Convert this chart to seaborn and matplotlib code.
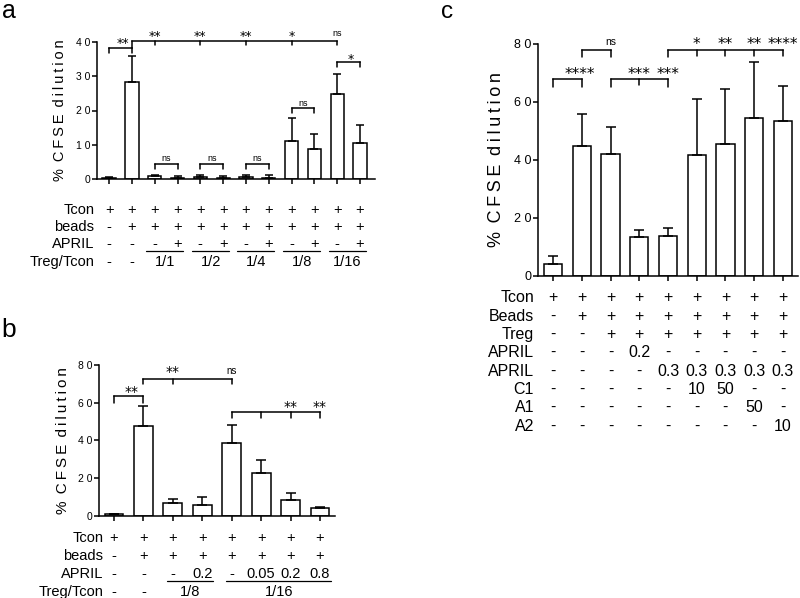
import numpy as np
import pandas as pd
import matplotlib
matplotlib.use("Agg")
import matplotlib.pyplot as plt
import seaborn as sns
from matplotlib.transforms import blended_transform_factory

W, H = 800, 598

# ---------------- panel a data ----------------
a_values = [0.3, 28.3, 0.8, 0.3, 0.7, 0.3, 0.7, 0.4, 11.2, 8.7, 24.7, 10.5]
a_errors = [0.4, 7.5, 0.5, 0.5, 0.6, 0.5, 0.5, 0.9, 6.5, 4.3, 6.1, 5.2]
a_yticks = [0, 10, 20, 30, 40]
a_rows = ["Tcon", "beads", "APRIL", "Treg/Tcon"]
a_tcon = ["+"] * 12
a_beads = ["-"] + ["+"] * 11
a_april = ["-", "-"] + ["-", "+"] * 5
a_ratio = ["-", "-"] + [""] * 10
a_groups = ["1/1", "1/2", "1/4", "1/8", "1/16"]
a_group_bars = [(2, 3), (4, 5), (6, 7), (8, 9), (10, 11)]
# brackets: (bar positions, bar y, leg bottoms)
a_brackets = [
    ([0, 1], 38.2, [36.7, 36.7]),
    ([1, 2, 4, 6, 8, 10], 40.4, [38.2, 39.1, 39.1, 39.1, 39.1, 39.1]),
    ([2, 3], 4.4, [2.9, 2.9]),
    ([4, 5], 4.4, [2.9, 2.9]),
    ([6, 7], 4.4, [2.9, 2.9]),
    ([8, 9], 20.7, [19.2, 19.2]),
    ([10, 11], 34.3, [32.8, 32.8]),
]
a_marks = [
    (0.6, 38.6, "**"), (2, 40.6, "**"), (4, 40.6, "**"), (6, 40.6, "**"),
    (8, 40.6, "*"), (10, 41.7, "ns"), (2.5, 5.3, "ns"), (4.5, 5.3, "ns"),
    (6.5, 5.3, "ns"), (8.5, 21.3, "ns"), (10.6, 34.0, "*"),
]

# ---------------- panel b data ----------------
b_values = [0.8, 47.5, 6.6, 5.9, 38.4, 22.9, 8.4, 4.1]
b_errors = [0.3, 10.5, 2.1, 3.8, 10.0, 6.6, 3.8, 0.7]
b_yticks = [0, 20, 40, 60, 80]
b_rows = ["Tcon", "beads", "APRIL", "Treg/Tcon"]
b_tcon = ["+"] * 8
b_beads = ["-"] + ["+"] * 7
b_april = ["-", "-", "-", "0.2", "-", "0.05", "0.2", "0.8"]
b_ratio = ["-", "-"] + [""] * 6
b_groups = ["1/8", "1/16"]
b_group_bars = [(2, 3), (4, 7)]
b_brackets = [
    ([0, 1], 63.3, [59.8, 59.8]),
    ([1, 2, 4], 72.7, [69.7, 69.7, 69.7]),
    ([4, 5, 6, 7], 55.0, [51.7, 51.7, 51.7, 51.7]),
]
b_marks = [
    (0.6, 63.4, "**"), (2, 74.0, "**"), (4, 75.2, "ns"),
    (6, 55.5, "**"), (7, 55.5, "**"),
]

# ---------------- panel c data ----------------
c_values = [3.9, 44.8, 42.0, 13.5, 13.8, 41.6, 45.5, 54.3, 53.4]
c_errors = [2.9, 11.1, 9.3, 2.4, 2.6, 19.5, 19.1, 19.6, 12.0]
c_yticks = [0, 20, 40, 60, 80]
c_rows = ["Tcon", "Beads", "Treg", "APRIL", "APRIL", "C1", "A1", "A2"]
c_tcon = ["+"] * 9
c_beads = ["-"] + ["+"] * 8
c_treg = ["-", "-"] + ["+"] * 7
c_april1 = ["-", "-", "-", "0.2", "-", "-", "-", "-", "-"]
c_april2 = ["-", "-", "-", "-", "0.3", "0.3", "0.3", "0.3", "0.3"]
c_c1 = ["-", "-", "-", "-", "-", "10", "50", "-", "-"]
c_a1 = ["-", "-", "-", "-", "-", "-", "-", "50", "-"]
c_a2 = ["-", "-", "-", "-", "-", "-", "-", "-", "10"]
c_brackets = [
    ([0, 1], 67.9, [65.0, 65.0]),
    ([1, 2], 77.9, [75.4, 75.4]),
    ([2, 3, 4], 67.8, [65.0, 66.0, 65.0]),
    ([4, 5, 6, 7, 8], 77.9, [75.4, 75.8, 75.8, 75.8, 75.8]),
]
c_marks = [
    (0.93, 68.0, "****"), (2, 79.7, "ns"), (3, 68.0, "***"), (4, 68.0, "***"),
    (5, 78.4, "*"), (6, 78.4, "**"), (7, 78.4, "**"), (8, 78.4, "****"),
]

YLABEL = "%\u2009 C\u2009F\u2009S\u2009E\u2009 d\u2009i\u2009l\u2009u\u2009t\u2009i\u2009o\u2009n"

sns.set_theme(style="ticks")
plt.rcParams["font.family"] = ["Liberation Sans", "DejaVu Sans"]
plt.rcParams["axes.linewidth"] = 1.1
plt.rcParams["text.color"] = "black"

fig = plt.figure(figsize=(W / 100, H / 100), dpi=100)


def make_axes(l, r, t, b):
    return fig.add_axes([l / W, 1 - b / H, (r - l) / W, (b - t) / H])


def draw_panel(ax, prefix, values, errors, width, capsize, xlim, ylim, yticks,
               tick_fs, ylabel_fs, ylabel_x):
    n = len(values)
    df = pd.DataFrame({"cond": [f"{prefix}{i}" for i in range(n)], "value": values})
    sns.barplot(data=df, x="cond", y="value", ax=ax, color="white",
                edgecolor="black", linewidth=1.1, width=width, errorbar=None,
                saturation=1)
    x = np.arange(n)
    ax.errorbar(x, values, yerr=[np.zeros(n), errors], fmt="none", ecolor="black",
                elinewidth=1.1, capsize=capsize, capthick=1.1, zorder=3)
    ax.set_xlim(*xlim)
    ax.set_ylim(*ylim)
    sns.despine(ax=ax)
    ax.spines["left"].set_color("black")
    ax.spines["bottom"].set_color("black")
    ax.set_xticks(x)
    ax.set_xticklabels([])
    ax.set_yticks(yticks)
    ax.set_yticklabels([" ".join(str(t)) for t in yticks], fontsize=tick_fs)
    ax.tick_params(axis="both", direction="out", length=3.4, width=1.1,
                   color="black", pad=1.5, labelcolor="black")
    ax.set_xlabel("")
    ax.set_ylabel(YLABEL, fontsize=ylabel_fs, color="black")
    ax.yaxis.set_label_coords(ylabel_x, 0.5)
    ax.set_facecolor("none")


def draw_brackets(ax, brackets, marks, star_fs, ns_fs):
    for xs, y, legs in brackets:
        ax.plot([xs[0], xs[-1]], [y, y], color="black", lw=1.1, clip_on=False,
                solid_capstyle="projecting")
        for xv, lb in zip(xs, legs):
            ax.plot([xv, xv], [y, lb], color="black", lw=1.1, clip_on=False)
    for xv, yv, txt in marks:
        if txt == "ns":
            ax.text(xv, yv, txt, ha="center", va="baseline", fontsize=ns_fs,
                    family=["Liberation Sans"], clip_on=False)
        else:
            ax.text(xv, yv, txt, ha="center", va="baseline", fontsize=star_fs,
                    family=["DejaVu Sans"], clip_on=False)


def draw_table(ax, rows, cells, baselines, label_right, fs):
    tr = blended_transform_factory(ax.transData, fig.transFigure)
    for name, vals, ypx in zip(rows, cells, baselines):
        fig.text(label_right / W, 1 - ypx / H, name, ha="right", va="baseline",
                 fontsize=fs)
        for i, v in enumerate(vals):
            if v:
                ax.text(i, 1 - ypx / H, v, transform=tr, ha="center",
                        va="baseline", fontsize=fs, clip_on=False)
    return tr


def draw_groups(ax, tr, groups, group_bars, text_base, line_px, left_off,
                right_off, text_off, fs):
    for g, (b1, b2) in zip(groups, group_bars):
        ax.plot([b1 - left_off, b2 + right_off], [1 - line_px / H] * 2,
                transform=tr, color="black", lw=0.9, clip_on=False)
        ax.text((b1 + b2) / 2 + text_off, 1 - text_base / H, g, transform=tr,
                ha="center", va="baseline", fontsize=fs, clip_on=False)


# ---------------- panel a ----------------
ax_a = make_axes(97, 375, 42, 179)
draw_panel(ax_a, "a", a_values, a_errors, 0.58, 2.8, (-0.53, 11.66), (0, 40),
           a_yticks, 7.5, 10.5, -0.108)
draw_brackets(ax_a, a_brackets, a_marks, 9, 6.5)
tr_a = draw_table(ax_a, a_rows, [a_tcon, a_beads, a_april, a_ratio],
                  [214, 231, 248.3, 266], 94.3, 10.5)
draw_groups(ax_a, tr_a, a_groups, a_group_bars, 266, 250.5, 0.37, 0.25, -0.05, 10.5)

# ---------------- panel b ----------------
ax_b = make_axes(99.3, 335, 365, 515.7)
draw_panel(ax_b, "b", b_values, b_errors, 0.64, 3.3, (-0.5, 7.51), (0, 80),
           b_yticks, 7.5, 11, -0.124)
draw_brackets(ax_b, b_brackets, b_marks, 10, 7)
tr_b = draw_table(ax_b, b_rows, [b_tcon, b_beads, b_april, b_ratio],
                  [542.3, 560, 577.7, 596], 103.3, 10.5)
draw_groups(ax_b, tr_b, b_groups, b_group_bars, 596, 581, 0.2, 0.37, 0.1, 10.5)

# ---------------- panel c ----------------
ax_c = make_axes(538.3, 798, 44, 275.7)
draw_panel(ax_c, "c", c_values, c_errors, 0.64, 3.6, (-0.52, 8.53), (0, 80),
           c_yticks, 9, 13, -0.128)
draw_brackets(ax_c, c_brackets, c_marks, 11, 7.5)
draw_table(ax_c, c_rows,
           [c_tcon, c_beads, c_treg, c_april1, c_april2, c_c1, c_a1, c_a2],
           [302.3, 320.6, 339, 357.3, 375.6, 394, 412.3, 430.6], 534, 11.5)

# panel letters
fig.text(2 / W, 1 - 18.5 / H, "a", fontsize=18, va="baseline", ha="left")
fig.text(1 / W, 1 - 337 / H, "b", fontsize=19, va="baseline", ha="left")
fig.text(441 / W, 1 - 18 / H, "c", fontsize=17.5, va="baseline", ha="left")

fig.savefig("out.png", dpi=100, facecolor="white")
